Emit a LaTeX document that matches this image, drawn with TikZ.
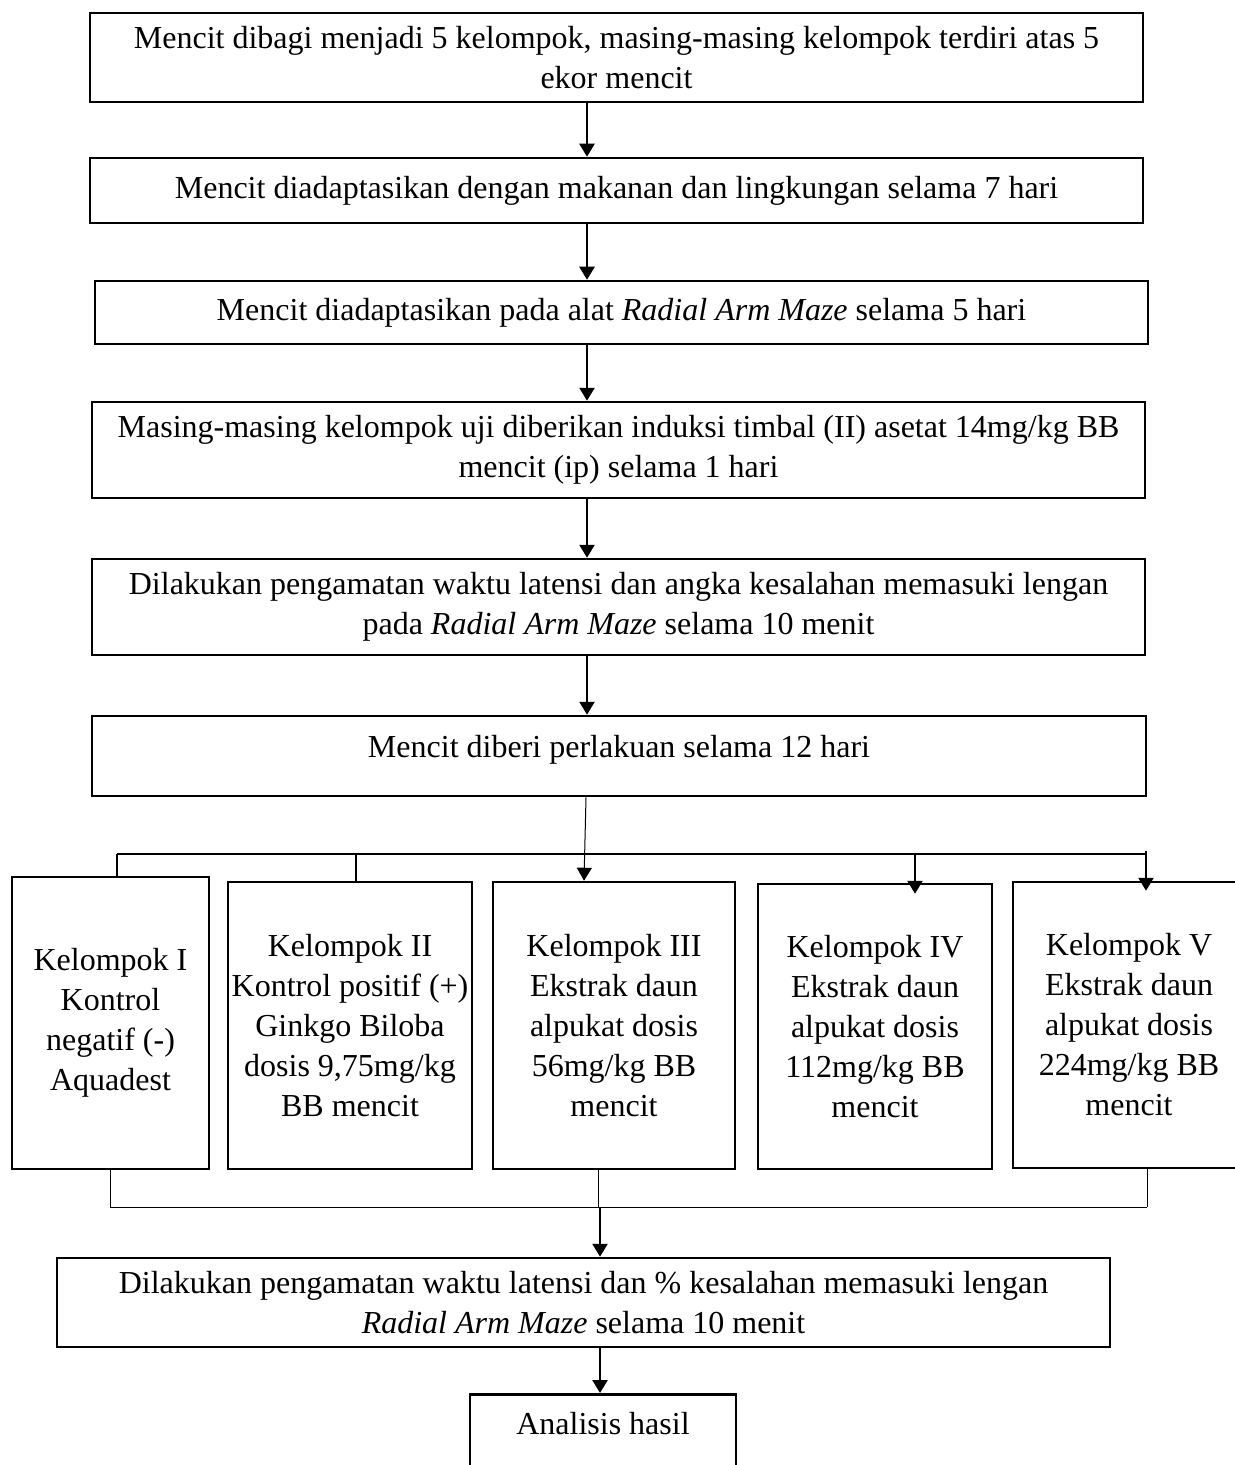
\documentclass[tikz,border=0pt]{standalone}
\usepackage{fontspec}
\setmainfont{Liberation Serif}
\usetikzlibrary{arrows.meta,calc}
\begin{document}
\begin{tikzpicture}[x=0.5pt,y=-0.5pt,
  box/.style={draw,line width=1.25pt,align=center,inner sep=0pt,font=\fontsize{16}{20}\selectfont},
  arr/.style={line width=1.25pt,-{Triangle[length=6.5pt,width=7.5pt]}},
  thinarr/.style={line width=0.5pt,-{Triangle[length=6.5pt,width=7.5pt]}},
  midline/.style={line width=0.7pt},
  stub/.style={line width=1.2pt},
  thinline/.style={line width=0.5pt}]
\useasboundingbox (0,0) rectangle (1235,1465);
% main column boxes
\node[box,minimum width=526.5pt,minimum height=44.5pt] (b1) at (616.5,57.5)
  {Mencit dibagi menjadi 5 kelompok, masing-masing kelompok terdiri atas 5\\ekor mencit};
\node[box,minimum width=526.5pt,minimum height=32.5pt] (b2) at (616.5,190.5)
  {Mencit diadaptasikan dengan makanan dan lingkungan selama 7 hari};
\node[box,minimum width=526.5pt,minimum height=31.5pt] (b3) at (621.5,312.5)
  {Mencit diadaptasikan pada alat \textit{Radial Arm Maze} selama 5 hari};
\node[box,minimum width=526.5pt,minimum height=48pt] (b4) at (618.5,450)
  {Masing-masing kelompok uji diberikan induksi timbal (II) asetat 14mg/kg BB\\mencit (ip) selama 1 hari};
\node[box,minimum width=526.5pt,minimum height=48pt] (b5) at (618.5,607)
  {Dilakukan pengamatan waktu latensi dan angka kesalahan memasuki lengan\\pada \textit{Radial Arm Maze} selama 10 menit};
\node[box,minimum width=527pt,minimum height=40pt,text depth=10pt] (b6) at (619,756)
  {Mencit diberi perlakuan selama 12 hari};
% group boxes
\node[box,minimum width=98.5pt,minimum height=146pt] (k1) at (110.5,1023)
  {Kelompok I\\Kontrol\\negatif (-)\\Aquadest};
\node[box,minimum width=122pt,minimum height=143.5pt] (k2) at (350,1025.5)
  {Kelompok II\\Kontrol positif (+)\\Ginkgo Biloba\\dosis 9,75mg/kg\\BB mencit};
\node[box,minimum width=121pt,minimum height=143.5pt] (k3) at (614,1025.5)
  {Kelompok III\\Ekstrak daun\\alpukat dosis\\56mg/kg BB\\mencit};
\node[box,minimum width=117pt,minimum height=142.5pt] (k4) at (875,1026.5)
  {Kelompok IV\\Ekstrak daun\\alpukat dosis\\112mg/kg BB\\mencit};
\node[box,minimum width=116pt,minimum height=143pt] (k5) at (1129,1025)
  {Kelompok V\\Ekstrak daun\\alpukat dosis\\224mg/kg BB\\mencit};
% lower boxes
\node[box,minimum width=526.5pt,minimum height=44.5pt] (b7) at (583.5,1302.5)
  {Dilakukan pengamatan waktu latensi dan \% kesalahan memasuki lengan\\\textit{Radial Arm Maze} selama 10 menit};
\node[box,anchor=north,minimum width=133pt,inner ysep=9pt,text height=11pt,text depth=40pt] (ana) at (603,1393)
  {Analisis hasil};
% helper coordinates
\coordinate (ax) at (587,0);
\coordinate (a3t) at (586,0);
\coordinate (a3b) at (584,0);
\coordinate (s1) at (117,0);
\coordinate (s2) at (356,0);
\coordinate (s4) at (915,0);
\coordinate (s5) at (1146,0);
\coordinate (brL) at (117,854);
\coordinate (brR) at (1146,854);
\coordinate (m3) at (598,0);
\coordinate (m5) at (1147,0);
\coordinate (mx) at (600,0);
\coordinate (mgL) at (110,1207);
\coordinate (mgR) at (1147,1207);
% main arrows
\draw[arr] (b1.south -| ax) -- (b2.north -| ax);
\draw[arr] (b2.south -| ax) -- (b3.north -| ax);
\draw[arr] (b3.south -| ax) -- (b4.north -| ax);
\draw[arr] (b4.south -| ax) -- (b5.north -| ax);
\draw[arr] (b5.south -| ax) -- (b6.north -| ax);
% branch
\draw[midline] (brL) -- (brR);
\draw[thinarr] (b6.south -| a3t) -- (k3.north -| a3b);
\draw[stub] (brL) -- (k1.north -| s1);
\draw[stub] (brL -| s2) -- (k2.north -| s2);
\draw[arr] (brL -| s4) -- ($(k4.north -| s4)+(0,11)$);
\draw[arr] ($(brR)+(0,-3)$) -- ($(k5.north -| s5)+(0,10)$);
% merge
\draw[thinline] (k1.south) -- (k1.south |- mgL);
\draw[thinline] (k3.south -| m3) -- (mgL -| m3);
\draw[thinline] (k5.south -| m5) -- (mgR);
\draw[thinline] (mgL) -- (mgR);
\draw[arr] (mgL -| mx) -- (b7.north -| mx);
\draw[arr] (b7.south -| mx) -- (ana.north -| mx);
\end{tikzpicture}
\end{document}
